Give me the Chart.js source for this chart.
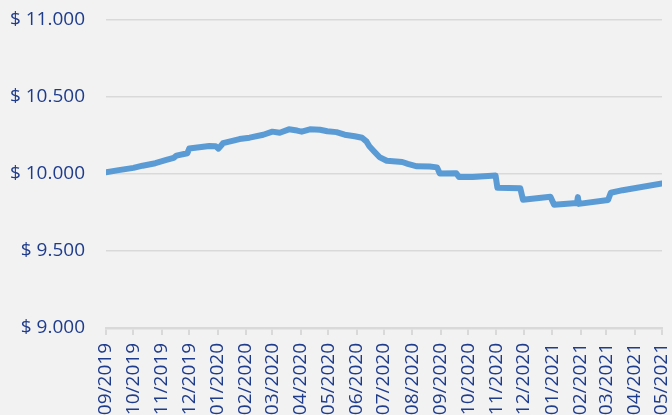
<!DOCTYPE html>
<html>
<head>
<meta charset="utf-8">
<script src="https://cdn.jsdelivr.net/npm/chart.js@4.4.1/dist/chart.umd.min.js"></script>
<style>
  html, body { margin: 0; padding: 0; background: #f2f2f2; }
  #wrap { width: 672px; height: 415px; position: relative; }
</style>
</head>
<body>
<div id="wrap"><canvas id="c" width="672" height="415"></canvas></div>
<script>
// ---- data ----
const dates = [
  '2019-09-01','2019-09-15','2019-10-01','2019-10-11','2019-10-25','2019-11-06','2019-11-14','2019-11-17',
  '2019-11-29','2019-12-01','2019-12-23','2019-12-30','2020-01-02','2020-01-07','2020-01-25','2020-02-05',
  '2020-02-20','2020-03-01','2020-03-09','2020-03-19','2020-03-28','2020-04-02','2020-04-11','2020-04-22',
  '2020-04-30','2020-05-10','2020-05-19','2020-05-30','2020-06-07','2020-06-12','2020-06-15','2020-06-20',
  '2020-06-26','2020-07-04','2020-07-21','2020-07-27','2020-08-06','2020-08-20','2020-08-28','2020-08-31',
  '2020-09-18','2020-09-21','2020-10-06','2020-10-31','2020-11-02','2020-11-27','2020-11-30','2020-12-30',
  '2021-01-03','2021-01-28','2021-01-29','2021-01-30','2021-03-03','2021-03-06','2021-03-19','2021-05-01'
];
const values = [
  10011,10025,10040,10054,10070,10091,10105,10119,
  10135,10165,10182,10180,10165,10200,10227,10236,
  10255,10275,10268,10290,10282,10275,10290,10287,
  10278,10272,10255,10245,10235,10210,10180,10148,
  10110,10086,10078,10066,10050,10048,10043,10003,
  10005,9980,9980,9990,9910,9907,9833,9852,
  9800,9812,9850,9806,9831,9878,9895,9938
];
const tickLabels = ['09/2019','10/2019','11/2019','12/2019','01/2020','02/2020','03/2020','04/2020','05/2020',
  '06/2020','07/2020','08/2020','09/2020','10/2020','11/2020','12/2020','01/2021','02/2021','03/2021','04/2021','05/2021'];
const yTicks = [9000, 9500, 10000, 10500, 11000];

// ---- helpers ----
const DAY = 86400000;
const t0 = Date.UTC(2019, 8, 1);
function dayOf(iso) { const [y, m, d] = iso.split('-').map(Number); return (Date.UTC(y, m - 1, d) - t0) / DAY; }
function dayOfLabel(lbl) { const [m, y] = lbl.split('/').map(Number); return (Date.UTC(y, m - 1, 1) - t0) / DAY; }
const tickDays = tickLabels.map(dayOfLabel);
const points = dates.map((d, i) => ({ x: dayOf(d), y: values[i] }));
function fmt(v) { return '$ ' + v.toString().replace(/\B(?=(\d{3})+(?!\d))/g, '.'); }

const textColor = '#1f3c8c';
const font = { family: 'Open Sans', size: 19 };

new Chart(document.getElementById('c'), {
  type: 'line',
  data: {
    datasets: [{
      data: points,
      borderColor: '#5b9bd5',
      borderWidth: 6,
      pointRadius: 0,
      tension: 0,
      borderCapStyle: 'round',
      borderJoinStyle: 'round'
    }]
  },
  options: {
    responsive: false,
    animation: false,
    layout: { padding: { top: 20, right: 10, left: 0, bottom: 0 } },
    plugins: { legend: { display: false }, tooltip: { enabled: false } },
    scales: {
      x: {
        type: 'linear',
        min: tickDays[0],
        max: tickDays[tickDays.length - 1],
        afterBuildTicks: s => { s.ticks = tickDays.map(v => ({ value: v })); },
        afterFit: s => { s.height = 87; s.paddingLeft = 0; s.paddingRight = 0; },
        ticks: {
          autoSkip: false,
          minRotation: 90,
          maxRotation: 90,
          padding: 8,
          color: textColor,
          font: font,
          callback: (v) => { const i = tickDays.indexOf(v); return i >= 0 ? tickLabels[i] : ''; }
        },
        grid: { drawOnChartArea: false, drawTicks: true, tickLength: 7, color: '#d9d9d9', lineWidth: 2 },
        border: { display: true, color: '#d9d9d9', width: 2.5 }
      },
      y: {
        min: 9000,
        max: 11000,
        afterBuildTicks: s => { s.ticks = yTicks.map(v => ({ value: v })); },
        afterFit: s => { s.width = 106; s.paddingTop = 0; s.paddingBottom = 0; },
        ticks: { color: textColor, font: font, padding: 21, callback: v => fmt(v) },
        grid: { drawTicks: false, color: '#d9d9d9', lineWidth: 1.5 },
        border: { display: false }
      }
    }
  },
  plugins: [{
    id: 'bg',
    beforeDraw: c => { const g = c.ctx; g.save(); g.fillStyle = '#f2f2f2'; g.fillRect(0, 0, c.width, c.height); g.restore(); }
  }]
});
</script>
</body>
</html>
